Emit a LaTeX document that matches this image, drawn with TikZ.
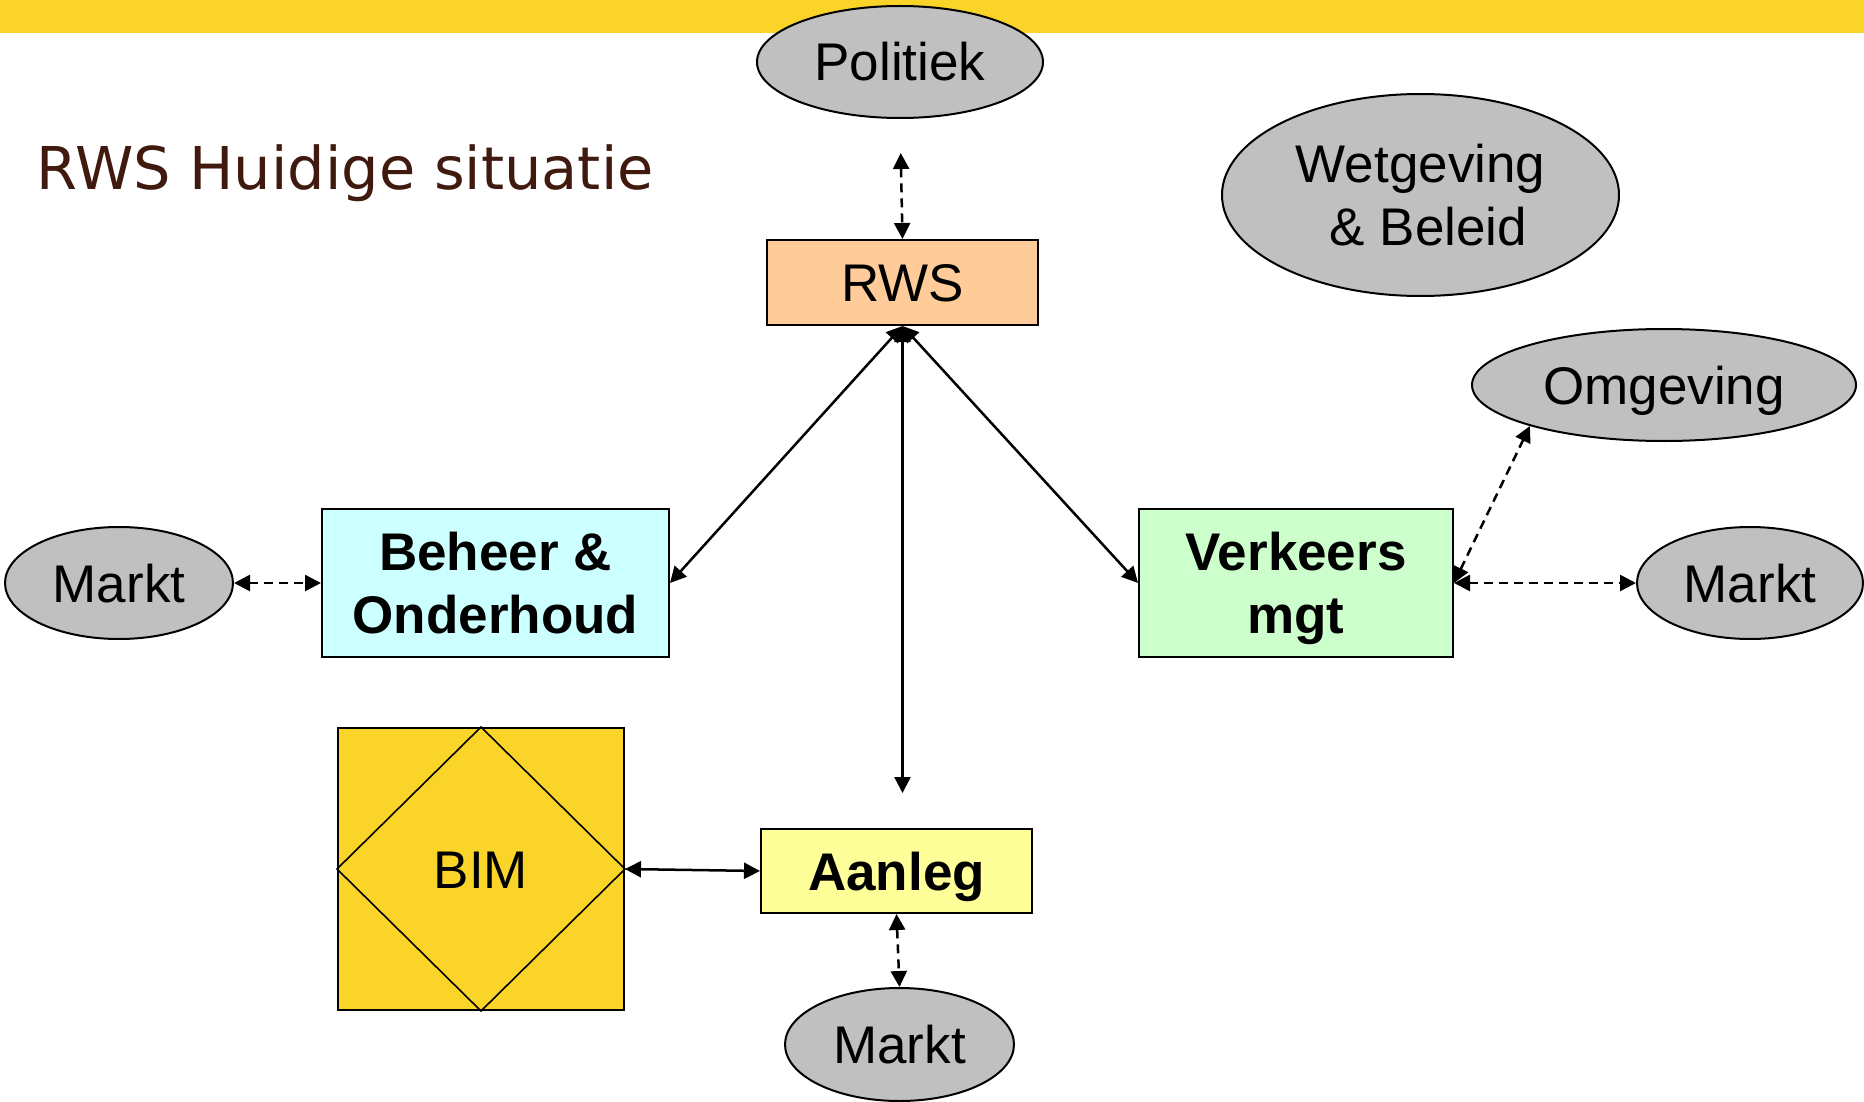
\documentclass[tikz,border=0pt]{standalone}
\usepackage{fontspec}
\setmainfont{Liberation Sans}
\newfontfamily\titlefont{DejaVu Sans}
\usetikzlibrary{arrows.meta,shapes.geometric}
\definecolor{gold}{RGB}{251,212,42}
\definecolor{greyfill}{RGB}{192,192,192}
\definecolor{rwsc}{RGB}{255,204,153}
\definecolor{behc}{RGB}{204,255,255}
\definecolor{verc}{RGB}{204,255,204}
\definecolor{aanc}{RGB}{255,255,153}
\definecolor{titlec}{RGB}{64,26,14}
\tikzset{
  ell/.style={ellipse, draw=black, line width=1pt, fill=greyfill, inner sep=0pt,
    font=\fontsize{26.5}{31.5}\selectfont, align=center},
  box/.style={rectangle, draw=black, line width=1pt, inner sep=0pt,
    font=\fontsize{26.5}{31.5}\selectfont, align=center},
  one/.style={text height=19pt, text depth=0pt},
  tip/.tip={Triangle[length=8pt,width=8pt]},
  conn/.style={line width=1.25pt, tip-tip},
  dconn/.style={conn, dash pattern=on 4.5pt off 3pt}
}
\begin{document}
\begin{tikzpicture}[x=0.5pt,y=-0.5pt]
\useasboundingbox (0,0) rectangle (1864,1102);
\fill[white] (0,0) rectangle (1864,1102);
\fill[gold] (0,0) rectangle (1864,33);

\node[anchor=base west, font=\titlefont\fontsize{29.5}{35}\selectfont, text=titlec, inner sep=0pt] (title) at (36,190) {RWS Huidige situatie};

\node[ell, one, minimum width=143pt, minimum height=56pt] (pol) at (900,62) {Politiek};
\node[box, one, fill=rwsc, minimum width=135.5pt, minimum height=42.5pt] (rws) at (902.5,282.5) {RWS};
\node[ell, minimum width=198.5pt, minimum height=101pt] (wet) at (1420.5,195) {Wetgeving\\\hspace*{8pt}\& Beleid};
\node[ell, one, minimum width=192pt, minimum height=56pt] (omg) at (1664,385) {Omgeving};
\node[ell, one, minimum width=113pt, minimum height=56pt] (mr) at (1750,583) {Markt};
\node[ell, one, minimum width=114pt, minimum height=56pt] (ml) at (119,583) {Markt};
\node[ell, one, minimum width=114.5pt, minimum height=56.5pt] (mb) at (899.5,1044.5) {Markt};

\node[box, fill=behc, minimum width=173.5pt, minimum height=74pt, font=\fontsize{26.5}{31.5}\selectfont\bfseries] (beh) at (495.5,583) {Beheer \&\\Onderhoud};
\node[box, fill=verc, minimum width=157pt, minimum height=74pt, font=\fontsize{26.5}{31.5}\selectfont\bfseries] (ver) at (1296,583) {Verkeers\\\smash{mgt}};
\node[box, one, fill=aanc, minimum width=135.5pt, minimum height=42pt, font=\fontsize{26.5}{31.5}\selectfont\bfseries] (aan) at (896.5,871) {Aanleg};
\node[box, one, fill=gold, minimum width=143pt, minimum height=141pt] (bim) at (481,869) {BIM};
\draw[line width=0.8pt] (bim.north) -- (bim.east) -- (bim.south) -- (bim.west) -- cycle;

\draw[dconn, shorten <=17pt] (pol.south) -- (rws.north);
\draw[conn] (rws.south) -- (beh.east);
\draw[conn] (rws.south) -- (ver.west);
\draw[conn, shorten >=17.5pt] (rws.south) -- (rws.south |- aan.north);
\draw[conn] (bim.east) -- (aan.west);
\draw[dconn] (aan.south) -- (mb.north);
\draw[dconn] (ml.east) -- (beh.west);
\draw[dconn] (ver.east) -- (mr.west);
\draw[dconn] (ver.east) -- (omg.197);
\end{tikzpicture}
\end{document}
